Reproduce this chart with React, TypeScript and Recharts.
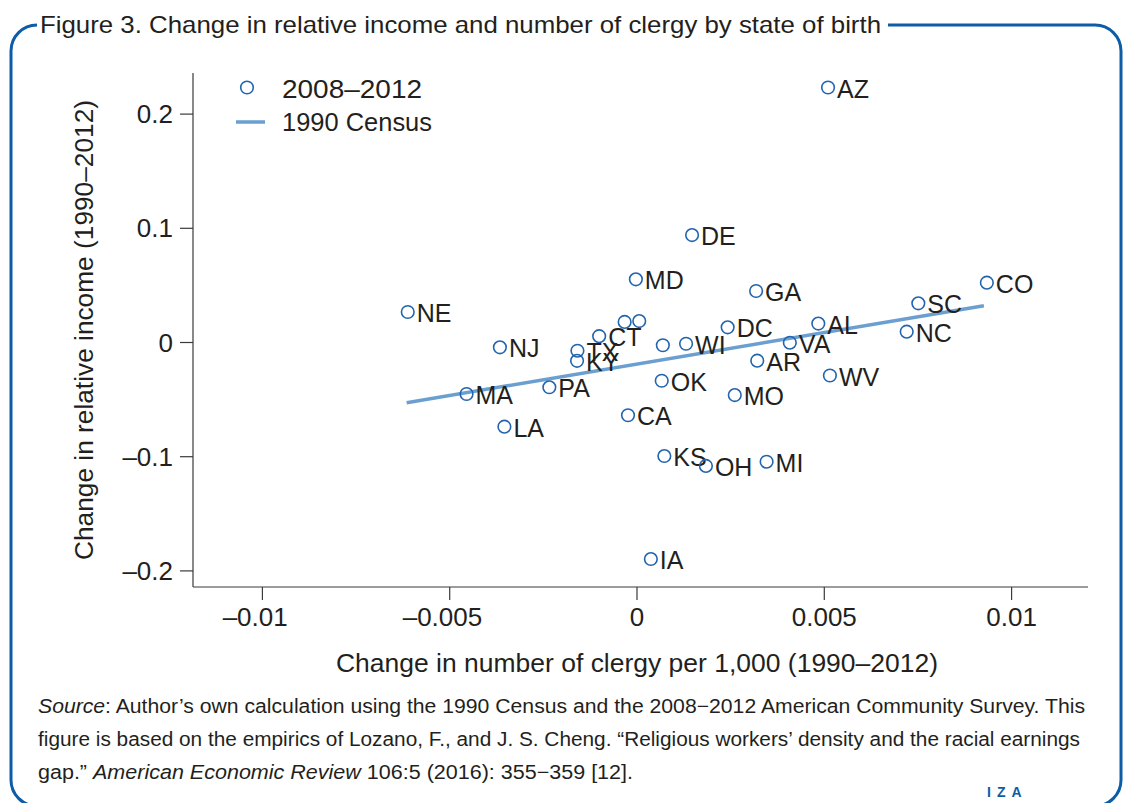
import React from 'react';
import { ScatterChart, Scatter, XAxis, YAxis } from 'recharts';

// ---- data ----
const STATES = ['AZ', 'DE', 'MD', 'GA', 'CO', 'SC', 'NC', 'NE', 'AL', 'DC', 'VA', 'WI', '', 'CT', '', '', 'NJ', 'TX', 'KY', 'AR', 'WV', 'PA', 'MA', 'OK', 'MO', 'CA', 'LA', 'KS', 'OH', 'MI', 'IA'];
const CLERGY_CHANGE = [0.0051, 0.00147, -0.00003, 0.00318, 0.00934, 0.00751, 0.0072, -0.00612, 0.00484, 0.00242, 0.00408, 0.00131, 0.00069, -0.00101, -0.00033, 0.00006, -0.00366, -0.00159, -0.0016, 0.00321, 0.00515, -0.00234, -0.00455, 0.00066, 0.00261, -0.00024, -0.00354, 0.00073, 0.00184, 0.00346, 0.00037];
const INCOME_CHANGE = [0.2233, 0.0941, 0.0553, 0.0451, 0.0524, 0.0343, 0.0095, 0.0267, 0.0166, 0.0133, -0.0002, -0.0011, -0.0024, 0.0055, 0.018, 0.0188, -0.0042, -0.0072, -0.016, -0.0159, -0.0289, -0.0392, -0.0451, -0.0335, -0.046, -0.0637, -0.0737, -0.0994, -0.1081, -0.1044, -0.1896];
const FIT_X = [-0.00615, 0.00926];
const FIT_Y = [-0.0527, 0.0322];
const X_TICKS = [-0.01, -0.005, 0, 0.005, 0.01];
const Y_TICKS = [-0.2, -0.1, 0, 0.1, 0.2];
const X_DOMAIN = [-0.011853, 0.01204];
const Y_DOMAIN = [-0.2141, 0.236];

const points = STATES.map((s, i) => ({ x: CLERGY_CHANGE[i], y: INCOME_CHANGE[i], state: s }));
const fitLine = FIT_X.map((x, i) => ({ x, y: FIT_Y[i] }));

const TEXT = '#231f20';
const BLUE_PT = '#2264ae';
const BLUE_LINE = '#6a9fd0';
const FRAME = '#0d5ca8';
const FONT = '"Liberation Sans", Arial, sans-serif';

const numWidth = (s: string, fs: number) => {
  let w = 0;
  for (const c of s) w += c === '.' ? 0.278 : 0.556;
  return w * fs;
};

const XTick = (props: any) => {
  const { x, payload } = props;
  const v = payload.value as number;
  const s = v === 0 ? '0' : String(Math.abs(v));
  const fs = 26;
  const w = numWidth(s, fs);
  const base = 626;
  return (
    <g>
      <text x={x} y={base} textAnchor="middle" fontSize={fs} fill={TEXT} fontFamily={FONT}>{s}</text>
      {v < 0 ? (
        <text x={x - w / 2} y={base} textAnchor="end" fontSize={fs} fill={TEXT} fontFamily={FONT}>–</text>
      ) : null}
    </g>
  );
};

const YTick = (props: any) => {
  const { y, payload } = props;
  const v = payload.value as number;
  const s = v === 0 ? '0' : (v < 0 ? '–' : '') + String(Math.abs(v));
  return (
    <text x={173} y={y + 9} textAnchor="end" fontSize={26} fill={TEXT} fontFamily={FONT}>{s}</text>
  );
};

const PointShape = (props: any) => {
  const { cx, cy, payload } = props;
  return (
    <g>
      <circle cx={cx} cy={cy} r={6.3} fill="none" stroke={BLUE_PT} strokeWidth={1.6} />
      {payload.state ? (
        <text x={cx + 9} y={cy + 10} fontSize={25} fill={TEXT} fontFamily={FONT}>{payload.state}</text>
      ) : null}
    </g>
  );
};

const NoShape = () => <g />;

export default function App() {
  return (
    <div style={{ position: 'absolute', left: 0, top: 0, width: 1124, height: 803, background: '#fff', overflow: 'hidden' }}>
      <div style={{ position: 'absolute', left: 0, top: 0 }}>
        <ScatterChart width={1124} height={700} margin={{ top: 73, right: 36, bottom: 13, left: 0 }}>
          <XAxis
            type="number"
            dataKey="x"
            domain={X_DOMAIN}
            ticks={X_TICKS}
            allowDataOverflow
            height={100}
            tickSize={13}
            stroke="#3a3a3a"
            tickLine={{ stroke: '#3a3a3a', strokeWidth: 1.2 }}
            axisLine={{ stroke: '#3a3a3a', strokeWidth: 1.2 }}
            tick={<XTick />}
          />
          <YAxis
            type="number"
            dataKey="y"
            domain={Y_DOMAIN}
            ticks={Y_TICKS}
            allowDataOverflow
            width={193}
            tickSize={13}
            stroke="#3a3a3a"
            tickLine={{ stroke: '#3a3a3a', strokeWidth: 1.2 }}
            axisLine={{ stroke: '#3a3a3a', strokeWidth: 1.2 }}
            tick={<YTick />}
          />
          <Scatter
            data={fitLine}
            line={{ stroke: BLUE_LINE, strokeWidth: 3.5 }}
            shape={<NoShape />}
            isAnimationActive={false}
          />
          <Scatter data={points} shape={<PointShape />} isAnimationActive={false} />
        </ScatterChart>
      </div>
      <svg width={1124} height={803} style={{ position: 'absolute', left: 0, top: 0, pointerEvents: 'none' }}>
        {/* frame */}
        <path d="M 37 25 A 26 26 0 0 0 11 51 V 780 A 26 26 0 0 0 37 806" fill="none" stroke={FRAME} strokeWidth={3} />
        <path d="M 888 25 H 1095 A 26 26 0 0 1 1121 51 V 780 A 26 26 0 0 1 1095 806" fill="none" stroke={FRAME} strokeWidth={3} />
        {/* title */}
        <text x={40} y={33} fontSize={24} fill={TEXT} fontFamily={FONT} textLength={841} lengthAdjust="spacingAndGlyphs">
          Figure 3. Change in relative income and number of clergy by state of birth
        </text>
        {/* legend */}
        <circle cx={247} cy={87.5} r={6.3} fill="none" stroke={BLUE_PT} strokeWidth={1.6} />
        <text x={282} y={98} fontSize={26} fill={TEXT} fontFamily={FONT} textLength={140} lengthAdjust="spacingAndGlyphs">2008–2012</text>
        <line x1={236} x2={265} y1={122} y2={122} stroke={BLUE_LINE} strokeWidth={3.5} />
        <text x={282} y={131} fontSize={26} fill={TEXT} fontFamily={FONT} textLength={150} lengthAdjust="spacingAndGlyphs">1990 Census</text>
        {/* axis titles */}
        <text x={637} y={672} textAnchor="middle" fontSize={25} fill={TEXT} fontFamily={FONT} textLength={602} lengthAdjust="spacingAndGlyphs">
          Change in number of clergy per 1,000 (1990–2012)
        </text>
        <text
          x={0}
          y={0}
          transform="translate(93 330) rotate(-90)"
          textAnchor="middle"
          fontSize={25}
          fill={TEXT}
          fontFamily={FONT}
          textLength={460}
          lengthAdjust="spacingAndGlyphs"
        >
          Change in relative income (1990–2012)
        </text>
        {/* source */}
        <text x={38} y={713} fontSize={20} fill={TEXT} fontFamily={FONT} textLength={1047} lengthAdjust="spacingAndGlyphs">
          <tspan fontStyle="italic">Source</tspan>: Author’s own calculation using the 1990 Census and the 2008−2012 American Community Survey. This
        </text>
        <text x={38} y={746} fontSize={20} fill={TEXT} fontFamily={FONT} textLength={1042} lengthAdjust="spacingAndGlyphs">
          figure is based on the empirics of Lozano, F., and J. S. Cheng. “Religious workers’ density and the racial earnings
        </text>
        <text x={38} y={779} fontSize={20} fill={TEXT} fontFamily={FONT} textLength={595} lengthAdjust="spacingAndGlyphs">
          gap.” <tspan fontStyle="italic">American Economic Review</tspan> 106:5 (2016): 355−359 [12].
        </text>
        <text x={987} y={797} fontSize={14} fontWeight="bold" fill={FRAME} fontFamily={FONT} letterSpacing={6}>IZA</text>
      </svg>
    </div>
  );
}
